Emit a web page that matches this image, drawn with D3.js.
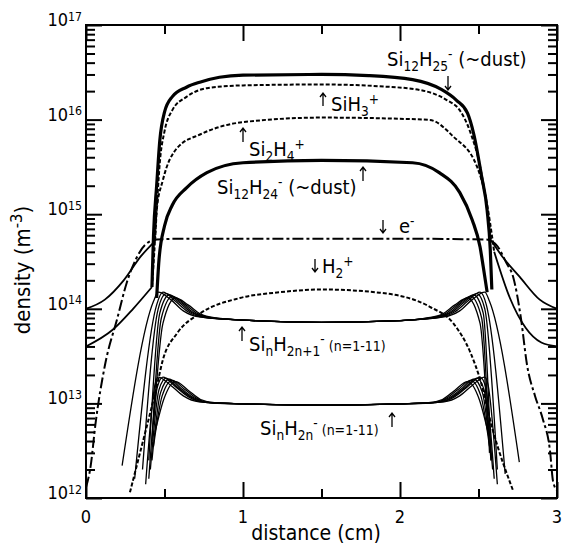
<!DOCTYPE html>
<html>
<head>
<meta charset="utf-8">
<script src="https://cdn.jsdelivr.net/npm/d3@7"></script>
<style>
  body { margin: 0; background: #fff; }
  svg { display: block; }
  text { font-family: 'DejaVu Sans Condensed', 'DejaVu Sans', sans-serif; font-stretch: condensed; fill: #000; white-space: pre; }
</style>
</head>
<body>
<svg id="chart" width="564" height="553"></svg>
<script>
(function (w) {
  const d3 = w.d3

  // axis ticks
  const xTickValues = [0, 1, 2, 3]
  const xMinorValues = [0.5, 1.5, 2.5]
  const yDecades = [12, 13, 14, 15, 16, 17]

  // densities in m^-3 as [distance (cm), density]
  const si12h25 = [[0.42, 1.7e14], [0.43, 6e14], [0.45, 2e15], [0.47, 6e15], [0.50, 1.2e16], [0.55, 1.75e16], [0.64, 2.2e16], [0.73, 2.5e16], [0.85, 2.8e16], [1.0, 2.95e16], [1.5, 3.0e16], [1.8, 2.92e16], [2.08, 2.65e16], [2.26, 2.1e16], [2.36, 1.6e16], [2.43, 1.17e16], [2.47, 7e15], [2.52, 2.5e15], [2.555, 1.1e15], [2.575, 4.2e14], [2.585, 1.6e14]]
  const si12h24 = [[0.45, 1.3e14], [0.465, 3.3e14], [0.50, 7.5e14], [0.55, 1.25e15], [0.64, 1.9e15], [0.77, 2.75e15], [1.0, 3.5e15], [1.5, 3.7e15], [2.08, 3.5e15], [2.25, 2.75e15], [2.38, 1.7e15], [2.46, 8.7e14], [2.51, 4.5e14], [2.53, 2.8e14], [2.555, 1.5e14]]
  const sih3 = [[0.44, 5.2e14], [0.455, 1.5e15], [0.47, 3.5e15], [0.50, 7.5e15], [0.55, 1.26e16], [0.64, 1.74e16], [0.77, 2.15e16], [1.0, 2.3e16], [1.5, 2.35e16], [1.87, 2.25e16], [2.13, 2.05e16], [2.3, 1.6e16], [2.38, 1.26e16], [2.45, 7.2e15], [2.51, 3.2e15], [2.55, 1.3e15], [2.58, 5.3e14]]
  const si2h4 = [[0.42, 1.7e14], [0.435, 4e14], [0.45, 1.1e15], [0.49, 2.3e15], [0.58, 5e15], [0.73, 7e15], [1.0, 9.4e15], [1.5, 1.05e16], [2.0, 1.02e16], [2.19, 9.9e15], [2.34, 6.6e15], [2.49, 3.2e15], [2.55, 1.4e15], [2.6, 4e14]]
  // ion densities across the sheaths, out to the electrodes
  const sheathUpperLeft = [[0, 1.0e14], [0.12, 1.25e14], [0.24, 2e14], [0.35, 3.6e14], [0.44, 5.2e14]]
  const sheathUpperRight = [[2.58, 5.3e14], [2.65, 3.6e14], [2.76, 2.2e14], [2.89, 1.25e14], [3.0, 1.0e14]]
  const sheathLowerLeft = [[0, 4e13], [0.17, 6e13], [0.30, 1e14], [0.42, 1.7e14]]
  const sheathLowerRight = [[2.6, 4e14], [2.7, 1.3e14], [2.8, 6.3e13], [2.9, 4.4e13], [3.0, 4e13]]
  const electrons = [[0.0, 1.3e12], [0.03, 2.2e12], [0.06, 6e12], [0.12, 2.5e13], [0.2, 8e13], [0.26, 1.9e14], [0.32, 3.4e14], [0.38, 4.8e14], [0.45, 5.4e14], [0.6, 5.5e14], [1.0, 5.5e14], [1.5, 5.5e14], [2.0, 5.5e14], [2.4, 5.45e14], [2.55, 5.4e14], [2.62, 4.6e14], [2.68, 3e14], [2.72, 2.2e14], [2.77, 8e13], [2.81, 2.5e13], [2.86, 1.2e13], [2.91, 6.8e12], [2.955, 3.2e12], [2.975, 1.5e12], [3.0, 1.2e12]]
  const h2 = [[0.28, 1.15e12], [0.344, 3e12], [0.45, 1.5e13], [0.49, 2.9e13], [0.58, 5.5e13], [0.73, 9e13], [0.98, 1.3e14], [1.24, 1.5e14], [1.5, 1.6e14], [1.87, 1.48e14], [2.19, 1.05e14], [2.34, 7e13], [2.45, 3.4e13], [2.51, 1.8e13], [2.59, 5.3e12], [2.72, 1.2e12]]

  // SinH2n+1- (n=1-11), drawn as the distinguishable members
  const sinH2n1 = [
    [[0.23, 2.2e12], [0.43, 1.2e14], [0.46, 1.5e14], [0.54, 1.25e14], [0.62, 9.5e13], [0.72, 8.2e13], [1.0, 7.6e13], [1.5, 7.2e13], [2.0, 7.5e13], [2.28, 8.2e13], [2.38, 9.5e13], [2.46, 1.25e14], [2.54, 1.5e14], [2.57, 1.2e14], [2.76, 2.4e12]],
    [[0.31, 1.6e12], [0.45, 1.1e14], [0.49, 1.5e14], [0.57, 1.2e14], [0.65, 9.3e13], [0.75, 8.1e13], [1.0, 7.6e13], [1.5, 7.2e13], [2.0, 7.5e13], [2.25, 8.1e13], [2.35, 9.3e13], [2.43, 1.2e14], [2.51, 1.5e14], [2.55, 1.1e14], [2.67, 1.8e12]],
    [[0.36, 2e12], [0.46, 1e14], [0.51, 1.45e14], [0.59, 1.18e14], [0.67, 9.2e13], [0.77, 8.1e13], [1.0, 7.6e13], [1.5, 7.2e13], [2.0, 7.5e13], [2.23, 8.1e13], [2.33, 9.2e13], [2.41, 1.18e14], [2.49, 1.45e14], [2.54, 1e14], [2.62, 2e12]],
    [[0.40, 2.5e12], [0.47, 9e13], [0.53, 1.4e14], [0.61, 1.15e14], [0.69, 9e13], [0.79, 8e13], [1.0, 7.6e13], [1.5, 7.2e13], [2.0, 7.5e13], [2.21, 8e13], [2.31, 9e13], [2.39, 1.15e14], [2.47, 1.4e14], [2.53, 9e13], [2.58, 2.5e12]],
    [[0.42, 4e12], [0.48, 8e13], [0.55, 1.35e14], [0.63, 1.12e14], [0.71, 8.9e13], [0.81, 8e13], [1.0, 7.6e13], [1.5, 7.2e13], [2.0, 7.5e13], [2.19, 8e13], [2.29, 8.9e13], [2.37, 1.12e14], [2.45, 1.35e14], [2.52, 8e13], [2.57, 3e12]],
    [[0.43, 6e12], [0.49, 7e13], [0.57, 1.3e14], [0.65, 1.1e14], [0.73, 8.8e13], [0.83, 8e13], [1.0, 7.6e13], [1.5, 7.2e13], [2.0, 7.5e13], [2.17, 8e13], [2.27, 8.8e13], [2.35, 1.1e14], [2.43, 1.3e14], [2.51, 7e13], [2.56, 5e12]]
  ]
  // SinH2n- (n=1-11)
  const sinH2n = [
    [[0.38, 1.4e12], [0.44, 1.6e13], [0.46, 1.9e13], [0.54, 1.55e13], [0.62, 1.2e13], [0.72, 1.04e13], [1.0, 9.9e12], [1.5, 9.6e12], [2.0, 9.9e12], [2.28, 1.04e13], [2.38, 1.2e13], [2.46, 1.55e13], [2.54, 1.9e13], [2.56, 1.6e13], [2.62, 1.4e12]],
    [[0.40, 1.6e12], [0.455, 1.5e13], [0.49, 1.9e13], [0.57, 1.5e13], [0.65, 1.18e13], [0.75, 1.03e13], [1.0, 9.9e12], [1.5, 9.6e12], [2.0, 9.9e12], [2.25, 1.03e13], [2.35, 1.18e13], [2.43, 1.5e13], [2.51, 1.9e13], [2.545, 1.5e13], [2.60, 1.6e12]],
    [[0.41, 2e12], [0.465, 1.4e13], [0.51, 1.85e13], [0.59, 1.45e13], [0.67, 1.16e13], [0.77, 1.02e13], [1.0, 9.9e12], [1.5, 9.6e12], [2.0, 9.9e12], [2.23, 1.02e13], [2.33, 1.16e13], [2.41, 1.45e13], [2.49, 1.85e13], [2.535, 1.4e13], [2.59, 2e12]],
    [[0.42, 2.5e12], [0.475, 1.3e13], [0.53, 1.8e13], [0.61, 1.42e13], [0.69, 1.14e13], [0.79, 1.02e13], [1.0, 9.9e12], [1.5, 9.6e12], [2.0, 9.9e12], [2.21, 1.02e13], [2.31, 1.14e13], [2.39, 1.42e13], [2.47, 1.8e13], [2.525, 1.3e13], [2.58, 2.5e12]],
    [[0.43, 3.5e12], [0.485, 1.2e13], [0.55, 1.75e13], [0.63, 1.4e13], [0.71, 1.12e13], [0.81, 1.01e13], [1.0, 9.9e12], [1.5, 9.6e12], [2.0, 9.9e12], [2.19, 1.01e13], [2.29, 1.12e13], [2.37, 1.4e13], [2.45, 1.75e13], [2.515, 1.2e13], [2.57, 3.5e12]],
    [[0.44, 5e12], [0.495, 1.1e13], [0.57, 1.7e13], [0.65, 1.38e13], [0.73, 1.1e13], [0.83, 1.01e13], [1.0, 9.9e12], [1.5, 9.6e12], [2.0, 9.9e12], [2.17, 1.01e13], [2.27, 1.1e13], [2.35, 1.38e13], [2.43, 1.7e13], [2.505, 1.1e13], [2.56, 5e12]]
  ]

  const left = 86
  const right = 557
  const top = 25
  const bottom = 498

  const x = d3.scaleLinear().domain([0, 3]).range([left, right])
  const y = d3.scaleLog().domain([1e12, 1e17]).range([bottom, top])

  const svg = d3.select('#chart')

  svg.append('clipPath').attr('id', 'plot')
    .append('rect')
    .attr('x', left).attr('y', top)
    .attr('width', right - left).attr('height', bottom - top)

  const line = d3.line()
    .x(function (d) { return x(d[0]) })
    .y(function (d) { return y(d[1]) })
    .curve(d3.curveMonotoneX)

  const series = []
  sinH2n1.forEach(function (s) { series.push({ data: s, width: 1.3, dash: null }) })
  sinH2n.forEach(function (s) { series.push({ data: s, width: 1.3, dash: null }) })
  ;[sheathUpperLeft, sheathUpperRight, sheathLowerLeft, sheathLowerRight].forEach(function (s) {
    series.push({ data: s, width: 1.8, dash: null })
  })
  series.push({ data: h2, width: 2, dash: '4,2' })
  series.push({ data: electrons, width: 2, dash: '11,3,3,3' })
  series.push({ data: si2h4, width: 2, dash: '4,2' })
  series.push({ data: sih3, width: 2, dash: '4,2' })
  series.push({ data: si12h24, width: 3.2, dash: null })
  series.push({ data: si12h25, width: 3.2, dash: null })

  svg.append('g')
    .attr('clip-path', 'url(#plot)')
    .selectAll('path')
    .data(series)
    .enter().append('path')
    .attr('d', function (d) { return line(d.data) })
    .attr('fill', 'none')
    .attr('stroke', '#000')
    .attr('stroke-width', function (d) { return d.width })
    .attr('stroke-dasharray', function (d) { return d.dash })
    .attr('stroke-linejoin', 'round')

  // ticks, all pointing into the plot
  const yMajor = yDecades.map(function (k) { return Math.pow(10, k) })
  const yMinor = y.ticks().filter(function (v) { return yMajor.indexOf(v) < 0 })

  function ticks (axis, tx, ty, values, size) {
    svg.append('g')
      .attr('transform', 'translate(' + tx + ',' + ty + ')')
      .call(axis.tickValues(values).tickSize(size).tickFormat(''))
      .call(function (g) { g.select('.domain').remove() })
      .call(function (g) { g.selectAll('.tick line').attr('stroke', '#000').attr('stroke-width', 2) })
  }
  ticks(d3.axisBottom(x), 0, bottom, xTickValues, -16)
  ticks(d3.axisBottom(x), 0, bottom, xMinorValues, -9)
  ticks(d3.axisTop(x), 0, top, xTickValues, -16)
  ticks(d3.axisTop(x), 0, top, xMinorValues, -9)
  ticks(d3.axisLeft(y), left, 0, yMajor, -16)
  ticks(d3.axisLeft(y), left, 0, yMinor, -9)
  ticks(d3.axisRight(y), right, 0, yMajor, -16)
  ticks(d3.axisRight(y), right, 0, yMinor, -9)

  svg.append('rect')
    .attr('x', left).attr('y', top)
    .attr('width', right - left).attr('height', bottom - top)
    .attr('fill', 'none').attr('stroke', '#000').attr('stroke-width', 2)

  // text with sub/superscripts
  function rich (parent, parts, size, opt) {
    opt = opt || {}
    const t = parent.append('text')
      .attr('x', opt.x).attr('y', opt.y)
      .attr('font-size', size)
      .attr('text-anchor', opt.anchor || 'start')
    if (opt.transform) t.attr('transform', opt.transform)
    let shift = 0
    parts.forEach(function (p) {
      const kind = p[1] || ''
      let s = 0
      let fs = size
      if (kind === 'sub') { s = size * 0.25; fs = size * 0.68 }
      if (kind === 'sup') { s = -size * (opt.sup || 0.35); fs = size * (opt.supSize || 0.68) }
      if (kind === 'small') { fs = size * 0.7 }
      t.append('tspan')
        .attr('dy', s - shift)
        .attr('font-size', fs)
        .text(p[0])
      shift = s
    })
    return t
  }

  const tickText = svg.append('g')
  yDecades.forEach(function (k) {
    rich(tickText, [['10'], [String(k), 'sup']], 18, { x: 82, y: y(Math.pow(10, k)) + 1, anchor: 'end', sup: 0.3 })
  })
  tickText.selectAll('text.xl')
    .data(xTickValues)
    .enter().append('text')
    .attr('class', 'xl')
    .attr('x', function (d) { return x(d) })
    .attr('y', 523)
    .attr('font-size', 18)
    .attr('text-anchor', 'middle')
    .text(function (d) { return d })

  rich(svg, [['distance (cm)']], 21, { x: 316, y: 540, anchor: 'middle' })
  rich(svg, [['density (m'], ['-3', 'sup'], [')']], 22, { x: 0, y: 0, anchor: 'middle', transform: 'translate(30,270) rotate(-90)', supSize: 0.75 })

  const labels = [
    { parts: [['Si'], ['12', 'sub'], ['H'], ['25', 'sub'], ['-', 'sup'], [' (~dust)']], x: 387, y: 66 },
    { parts: [['SiH'], ['3', 'sub'], ['+', 'sup']], x: 331, y: 111 },
    { parts: [['Si'], ['2', 'sub'], ['H'], ['4', 'sub'], ['+', 'sup']], x: 249, y: 156 },
    { parts: [['Si'], ['12', 'sub'], ['H'], ['24', 'sub'], ['-', 'sup'], [' (~dust)']], x: 217, y: 194 },
    { parts: [['e'], ['-', 'sup']], x: 399, y: 233 },
    { parts: [['H'], ['2', 'sub'], ['+', 'sup']], x: 322, y: 273 },
    { parts: [['Si'], ['n', 'sub'], ['H'], ['2n+1', 'sub'], ['-', 'sup'], [' (n=1-11)', 'small']], x: 249, y: 351 },
    { parts: [['Si'], ['n', 'sub'], ['H'], ['2n', 'sub'], ['-', 'sup'], [' (n=1-11)', 'small']], x: 260, y: 435 }
  ]
  // arrows: x, tail y, head y
  const arrows = [
    [448, 76, 90], [323, 106, 93], [243, 142, 128], [363, 181, 167],
    [383, 220, 233], [315, 259, 272], [242, 341, 327], [392, 427, 413]
  ]
  const ann = svg.append('g')
  labels.forEach(function (l) { rich(ann, l.parts, 20, { x: l.x, y: l.y }) })
  ann.selectAll('path.arrow')
    .data(arrows)
    .enter().append('path')
    .attr('class', 'arrow')
    .attr('d', function (d) {
      const dir = d[2] > d[1] ? -1 : 1
      return 'M' + d[0] + ',' + d[1] + 'V' + d[2] +
        'M' + (d[0] - 3) + ',' + (d[2] + dir * 4) + 'L' + d[0] + ',' + d[2] + 'L' + (d[0] + 3) + ',' + (d[2] + dir * 4)
    })
    .attr('fill', 'none')
    .attr('stroke', '#000')
    .attr('stroke-width', 1.3)
})(window)
</script>
</body>
</html>
